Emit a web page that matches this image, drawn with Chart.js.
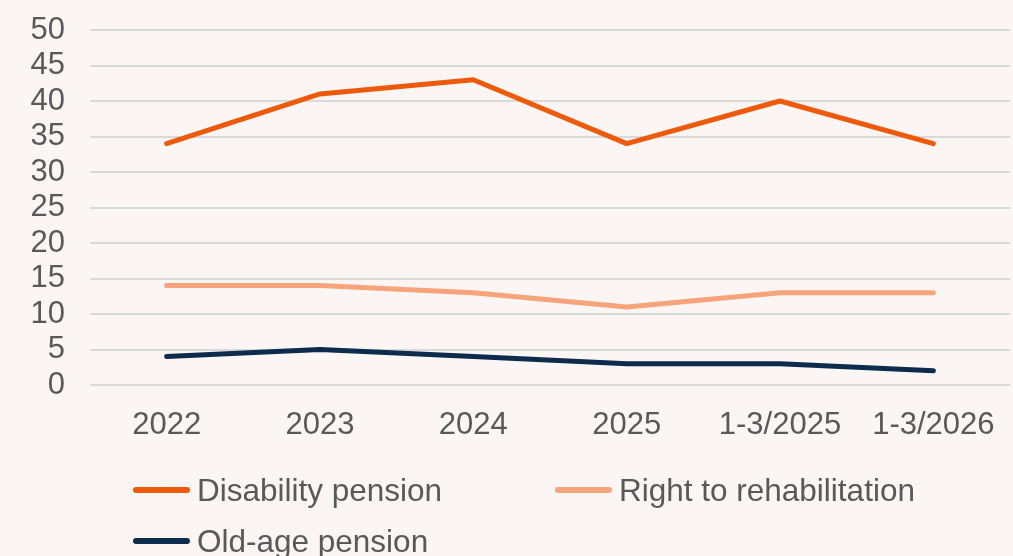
<!DOCTYPE html>
<html>
<head>
<meta charset="utf-8">
<script src="https://cdn.jsdelivr.net/npm/chart.js@4"></script>
<style>
  html, body { margin: 0; padding: 0; background: #fbf5f3; }
  #wrap { position: relative; width: 1013px; height: 556px; }
  #legend { position: absolute; left: 0; top: 0; width: 1013px; height: 556px; pointer-events: none;
    font-family: "Liberation Sans", Arial, sans-serif; font-size: 31.5px; color: #595959; }
  .item { position: absolute; display: flex; align-items: center; height: 36px; }
  .swatch { width: 57px; height: 6px; border-radius: 3px; margin-right: 7px; }
</style>
</head>
<body>
<div id="wrap">
  <canvas id="chart" width="1013" height="556"></canvas>
  <div id="legend"></div>
</div>
<script>
const categories = ['2022', '2023', '2024', '2025', '1-3/2025', '1-3/2026']
const disability = [34, 41, 43, 34, 40, 34]
const rehabilitation = [14, 14, 13, 11, 13, 13]
const oldAge = [4, 5, 4, 3, 3, 2]

const seriesNames = ['Disability pension', 'Right to rehabilitation', 'Old-age pension']
const colors = ['#ee5a0b', '#f7a47c', '#0d2b4c']

const textColor = '#595959'
const font = { family: '"Liberation Sans", Arial, sans-serif', size: 31 }

function line(label, data, color) {
  return {
    label: label,
    data: data,
    borderColor: color,
    backgroundColor: color,
    borderWidth: 5,
    pointRadius: 0,
    tension: 0,
    fill: false,
    borderCapStyle: 'round',
    borderJoinStyle: 'round',
  }
}

new Chart(document.getElementById('chart'), {
  type: 'line',
  data: {
    labels: categories,
    datasets: [
      line(seriesNames[0], disability, colors[0]),
      line(seriesNames[1], rehabilitation, colors[1]),
      line(seriesNames[2], oldAge, colors[2]),
    ],
  },
  options: {
    responsive: false,
    animation: false,
    layout: { padding: { top: 0, right: 3, bottom: 96, left: 0 } },
    plugins: { legend: { display: false }, tooltip: { enabled: false } },
    scales: {
      x: {
        offset: true,
        grid: { display: false },
        border: { display: false },
        ticks: { color: textColor, font: font, padding: 14, maxRotation: 0 },
        afterFit: (s) => { s.height = 75 },
      },
      y: {
        min: 0,
        max: 50,
        grid: { color: '#d9d9d9', lineWidth: 2, drawTicks: false },
        border: { display: false },
        ticks: { stepSize: 5, autoSkip: false, color: textColor, font: font, padding: 25 },
        afterFit: (s) => {
          s.width = 90
          s.paddingTop = 30
          s.paddingBottom = 0
        },
      },
    },
  },
})

// legend laid out like the original two-column grid
const legendPos = [[133, 490], [555, 490], [133, 541]]
const legend = document.getElementById('legend')
seriesNames.forEach((name, i) => {
  const el = document.createElement('div')
  el.className = 'item'
  el.style.left = legendPos[i][0] + 'px'
  el.style.top = (legendPos[i][1] - 18) + 'px'
  el.innerHTML = '<div class="swatch" style="background:' + colors[i] + '"></div><span>' + name + '</span>'
  legend.appendChild(el)
})
</script>
</body>
</html>
